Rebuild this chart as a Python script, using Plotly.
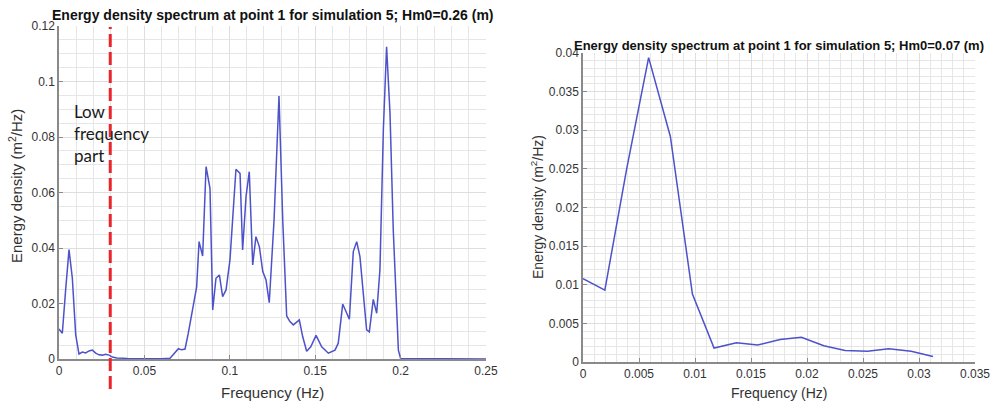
import plotly.graph_objects as go

# Low-frequency part of the spectrum (shared by both panels), Hz and m^2/Hz
low_freq = [0.0, 0.00195, 0.0039, 0.00586, 0.0078, 0.00977, 0.0117, 0.0137,
            0.0156, 0.0176, 0.0195, 0.0215, 0.0234, 0.0254, 0.0273, 0.0293, 0.03125]
low_energy = [0.0108, 0.0093, 0.0250, 0.0394, 0.0292, 0.0088, 0.0018, 0.0025,
              0.0022, 0.0029, 0.0032, 0.0021, 0.0015, 0.0014, 0.0017, 0.0014, 0.0007]

# Remainder of the full spectrum
high_freq = [0.0338, 0.04, 0.05, 0.06, 0.065, 0.068, 0.0699, 0.0718, 0.0738, 0.0757,
             0.0786, 0.0806, 0.082, 0.0841, 0.0861, 0.0884, 0.09, 0.0919, 0.0939,
             0.0958, 0.0978, 0.1001, 0.1036, 0.106, 0.1075, 0.1095, 0.1114, 0.1134,
             0.1153, 0.1173, 0.1193, 0.1212, 0.1231, 0.1259, 0.1288, 0.131, 0.1333,
             0.1352, 0.1372, 0.1407, 0.1427, 0.145, 0.1474, 0.1505, 0.1538, 0.1577,
             0.1616, 0.1635, 0.1661, 0.17, 0.1723, 0.1743, 0.1762, 0.1801, 0.1817,
             0.184, 0.186, 0.1879, 0.1899, 0.1918, 0.1938, 0.1957, 0.1987, 0.2, 0.25]
high_energy = [0.0004, 0.0002, 0.0001, 0.0001, 0.0003, 0.0026, 0.0037, 0.0033, 0.0036,
               0.0093, 0.0188, 0.026, 0.0423, 0.0371, 0.0693, 0.0615, 0.0177, 0.0291,
               0.0303, 0.0225, 0.0249, 0.0357, 0.0684, 0.0669, 0.0393, 0.0585, 0.0675,
               0.0339, 0.0441, 0.0405, 0.0315, 0.0285, 0.0203, 0.05, 0.0948, 0.05,
               0.0155, 0.0135, 0.0123, 0.0141, 0.008, 0.0028, 0.0044, 0.0085, 0.0044,
               0.0021, 0.0032, 0.0057, 0.0198, 0.0143, 0.0387, 0.0423, 0.0369, 0.0105,
               0.0098, 0.0215, 0.0165, 0.0321, 0.0825, 0.1125, 0.0885, 0.0465, 0.0032,
               0.0002, 0.0]

full_freq = low_freq + high_freq
full_energy = low_energy + high_energy

cutoff_freq = 0.03

left_xticks = [0, 0.05, 0.1, 0.15, 0.2, 0.25]
left_xlabels = ["0", "0.05", "0.1", "0.15", "0.2", "0.25"]
left_yticks = [0, 0.02, 0.04, 0.06, 0.08, 0.1, 0.12]
left_ylabels = ["0", "0.02", "0.04", "0.06", "0.08", "0.1", "0.12"]
right_xticks = [0, 0.005, 0.01, 0.015, 0.02, 0.025, 0.03, 0.035]
right_xlabels = ["0", "0.005", "0.01", "0.015", "0.02", "0.025", "0.03", "0.035"]
right_yticks = [0, 0.005, 0.01, 0.015, 0.02, 0.025, 0.03, 0.035, 0.04]
right_ylabels = ["0", "0.005", "0.01", "0.015", "0.02", "0.025", "0.03", "0.035", "0.04"]

title_left = "Energy density spectrum at point 1 for simulation 5; Hm0=0.26 (m)"
title_right = "Energy density spectrum at point 1 for simulation 5; Hm0=0.07 (m)"

W, H = 996, 403
LINE = "#4d52c9"
AXIS = "#8a8a8a"
GRID = "#e6e6e6"
FAMILY = "Liberation Sans, Arial, sans-serif"
TICKFONT = dict(family=FAMILY, size=12, color="#333333")

# panel boxes in pixels: (left, right, top, bottom)
box_l = (59, 486, 26, 359)
box_r = (583, 975, 53, 362)


def xdom(b):
    return [b[0] / W, b[1] / W]


def ydom(b):
    return [1 - b[3] / H, 1 - b[2] / H]


fig = go.Figure()
fig.add_trace(go.Scatter(x=full_freq, y=full_energy, mode="lines",
                         line=dict(color=LINE, width=1.5), xaxis="x", yaxis="y",
                         showlegend=False))
fig.add_trace(go.Scatter(x=low_freq, y=low_energy, mode="lines",
                         line=dict(color=LINE, width=1.5), xaxis="x2", yaxis="y2",
                         showlegend=False))


def axis(dom, rng, tv, tt, minor_dtick, anchor):
    return dict(domain=dom, range=rng, tickvals=tv, ticktext=tt, anchor=anchor,
                showline=True, linecolor=AXIS, linewidth=1.5, ticks="inside",
                ticklen=4, tickcolor=AXIS, tickfont=TICKFONT, showgrid=True,
                gridcolor="#dedede", gridwidth=1, zeroline=False, mirror=False,
                minor=dict(dtick=minor_dtick, tick0=0, showgrid=True,
                           gridcolor=GRID, gridwidth=1),
                automargin=False, fixedrange=True)


fig.update_layout(
    width=W, height=H, margin=dict(l=0, r=0, t=0, b=0),
    paper_bgcolor="white", plot_bgcolor="white",
    xaxis=axis(xdom(box_l), [0, 0.25], left_xticks, left_xlabels, 0.01, "y"),
    yaxis=axis(ydom(box_l), [0, 0.12], left_yticks, left_ylabels, 0.005, "x"),
    xaxis2=axis(xdom(box_r), [0, 0.035], right_xticks, right_xlabels, 0.001, "y2"),
    yaxis2=axis(ydom(box_r), [0, 0.04], right_yticks, right_ylabels, 0.001, "x2"),
)

# dashed marker of the low-frequency cutoff, running past the bottom axis
fig.add_shape(type="line", xref="x", yref="paper", x0=cutoff_freq, x1=cutoff_freq,
              y0=1 - 389 / H, y1=1 - 27 / H,
              line=dict(color="#e8262b", width=3, dash="13px,5px"))

ann = [
    dict(text="<b>" + title_left + "</b>", x=(box_l[0] + box_l[1]) / 2 / W,
         y=1 - 15 / H, font=dict(family=FAMILY, size=14, color="#111111")),
    dict(text="<b>" + title_right + "</b>", x=(box_r[0] + box_r[1]) / 2 / W,
         y=1 - 45 / H, font=dict(family=FAMILY, size=13, color="#111111")),
    dict(text="Frequency (Hz)", x=(box_l[0] + box_l[1]) / 2 / W, y=1 - 392 / H,
         font=dict(family=FAMILY, size=15, color="#333333")),
    dict(text="Frequency (Hz)", x=(box_r[0] + box_r[1]) / 2 / W, y=1 - 393 / H,
         font=dict(family=FAMILY, size=14, color="#333333")),
    dict(text="Energy density (m<sup>2</sup>/Hz)", x=15 / W, y=1 - 186 / H,
         textangle=-90, font=dict(family=FAMILY, size=15, color="#333333")),
    dict(text="Energy density (m<sup>2</sup>/Hz)", x=537 / W, y=1 - 207 / H,
         textangle=-90, font=dict(family=FAMILY, size=14, color="#333333")),
]
for a in ann:
    fig.add_annotation(xref="paper", yref="paper", showarrow=False,
                       xanchor="center", yanchor="middle", **a)

fig.add_annotation(xref="x", yref="y", x=0.0075, y=0.0937, showarrow=False,
                   xanchor="left", yanchor="top", align="left",
                   text="Low<br>frequency<br>part",
                   font=dict(family="Lato, Open Sans, sans-serif", size=17,
                             color="#1a1a1a"))

fig.write_html("out.html")
